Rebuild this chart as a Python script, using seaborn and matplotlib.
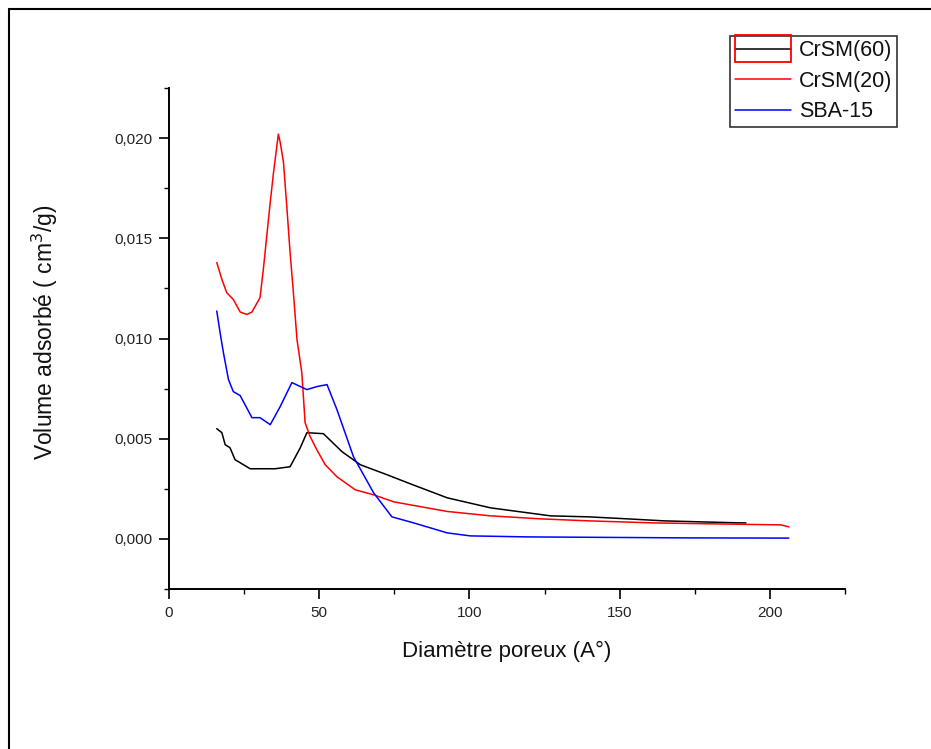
import numpy as np
import pandas as pd
import matplotlib
matplotlib.use("Agg")
import matplotlib.pyplot as plt
import seaborn as sns
from matplotlib.ticker import MultipleLocator, FuncFormatter
from matplotlib.legend_handler import HandlerLine2D
from matplotlib.patches import Rectangle
from matplotlib.lines import Line2D

# ---- data ----
x_crsm60 = [15.9, 17.6, 18.7, 20.3, 22.0, 23.7, 27.0, 35.3, 40.3, 43.7, 45.9, 51.4,
            57.6, 63.7, 72.6, 80.3, 92.6, 107.0, 127.0, 139.7, 152.6, 164.8, 177.0, 189.7, 192.0]
y_crsm60 = [0.0055, 0.0053, 0.0047, 0.00455, 0.00395, 0.0038, 0.0035, 0.0035, 0.0036, 0.00455,
            0.0053, 0.00525, 0.00435, 0.0037, 0.0032, 0.00275, 0.00205, 0.00155, 0.00115, 0.0011,
            0.0010, 0.0009, 0.00085, 0.0008, 0.0008]

x_crsm20 = [15.9, 17.6, 19.2, 21.4, 23.7, 25.9, 27.6, 30.3, 31.4, 32.6, 33.7, 34.8, 36.4, 37.0,
            38.1, 39.2, 40.3, 41.4, 42.6, 44.2, 44.8, 45.3, 47.0, 49.2, 52.0, 55.9, 62.0, 68.1,
            74.8, 80.3, 92.6, 107.0, 123.7, 139.7, 160.9, 181.3, 203.7, 206.3]
y_crsm20 = [0.01379, 0.01295, 0.01229, 0.01195, 0.01132, 0.0112, 0.01132, 0.01204, 0.01345,
            0.0152, 0.0168, 0.0183, 0.0202, 0.0198, 0.0188, 0.0166, 0.0143, 0.0123, 0.00995,
            0.0083, 0.00695, 0.0058, 0.0051, 0.00445, 0.0037, 0.0031, 0.00245, 0.0022, 0.00185,
            0.0017, 0.00137, 0.00115, 0.0010, 0.0009, 0.0008, 0.00075, 0.0007, 0.0006]

x_sba15 = [15.9, 17.0, 18.1, 19.8, 21.4, 23.7, 27.6, 30.3, 33.7, 37.0, 40.9, 45.9, 49.2, 52.6,
           55.9, 61.4, 68.1, 74.2, 81.4, 92.6, 100.3, 119.2, 173.0, 206.3]
y_sba15 = [0.01137, 0.0103, 0.0093, 0.00795, 0.00735, 0.00715, 0.00605, 0.00605, 0.0057,
           0.0066, 0.0078, 0.00745, 0.0076, 0.0077, 0.00645, 0.0041, 0.0023, 0.0011, 0.0008,
           0.0003, 0.00015, 0.0001, 0.00005, 0.00004]

series_names = ["CrSM(60)", "CrSM(20)", "SBA-15"]
colors = ["#000000", "#ff0000", "#0000ff"]

x_ticks = [0, 50, 100, 150, 200]
y_ticks = [0.000, 0.005, 0.010, 0.015, 0.020]

df = pd.concat([
    pd.DataFrame({"x": x_crsm60, "y": y_crsm60, "s": series_names[0]}),
    pd.DataFrame({"x": x_crsm20, "y": y_crsm20, "s": series_names[1]}),
    pd.DataFrame({"x": x_sba15, "y": y_sba15, "s": series_names[2]}),
], ignore_index=True)

# ---- figure ----
sns.set_theme(style="ticks")
plt.rcParams["font.family"] = ["Liberation Sans", "DejaVu Sans"]

W, H = 931, 749
fig = plt.figure(figsize=(W / 100, H / 100), dpi=100)
AX_L, AX_R, AX_T, AX_B = 169, 845, 88, 589
ax = fig.add_axes([AX_L / W, 1 - AX_B / H, (AX_R - AX_L) / W, (AX_B - AX_T) / H])

sns.lineplot(data=df, x="x", y="y", hue="s", hue_order=series_names,
             palette=dict(zip(series_names, colors)), estimator=None, sort=False,
             linewidth=1.1, ax=ax, legend=False)

ax.set_xlim(0, 225)
ax.set_ylim(-0.0025, 0.0225)
ax.set_xticks(x_ticks)
ax.set_yticks(y_ticks)
ax.xaxis.set_minor_locator(MultipleLocator(25))
ax.yaxis.set_minor_locator(MultipleLocator(0.0025))
ax.yaxis.set_major_formatter(FuncFormatter(lambda v, p: f"{v:.3f}".replace(".", ",")))
ax.xaxis.set_major_formatter(FuncFormatter(lambda v, p: f"{v:g}"))

for s in ["top", "right"]:
    ax.spines[s].set_visible(False)
for s in ["left", "bottom"]:
    ax.spines[s].set_linewidth(1.4)
    ax.spines[s].set_color("black")

ax.tick_params(which="major", direction="out", length=7, width=1.2, colors="black",
               labelsize=11, labelcolor="#222222", pad=5)
ax.tick_params(which="minor", direction="out", length=3.6, width=1.0, colors="black")

ax.set_xlabel("Diamètre poreux (A°)", fontsize=16, color="#111111")
ax.set_ylabel("Volume adsorbé ( cm$^3$/g)", fontsize=16.5, color="#111111")
ax.xaxis.set_label_coords((506.5 - AX_L) / (AX_R - AX_L), (AX_B - 641) / (AX_B - AX_T))
ax.yaxis.set_label_coords((60 - AX_L) / (AX_R - AX_L), (AX_B - 332) / (AX_B - AX_T))


class BoxedHandler(HandlerLine2D):
    def create_artists(self, legend, orig_handle, xdescent, ydescent, width, height,
                       fontsize, trans):
        arts = super().create_artists(legend, orig_handle, xdescent, ydescent, width,
                                      height, fontsize, trans)
        cy = (height - ydescent) / 2
        rect = Rectangle((-xdescent, cy - 9.7), width, 19.4, fill=False,
                         edgecolor="red", linewidth=1.3, transform=trans)
        return list(arts) + [rect]


handles = [Line2D([], [], color=c, lw=1.1) for c in colors]
leg = ax.legend(handles, series_names, loc="upper right",
                bbox_to_anchor=(897 / W, 1 - 36 / H), bbox_transform=fig.transFigure,
                frameon=True, fancybox=False, fontsize=15.5, handlelength=2.6,
                handletextpad=0.4, labelspacing=0.44, borderpad=0.2, borderaxespad=0,
                handler_map={handles[0]: BoxedHandler()})
leg.get_frame().set_edgecolor("black")
leg.get_frame().set_linewidth(1.2)
for t in leg.get_texts():
    t.set_color("#111111")

# partial outer frame (top and left)
fig.add_artist(Line2D([9 / W, 1], [1 - 9 / H, 1 - 9 / H], transform=fig.transFigure,
                      color="black", lw=1.5))
fig.add_artist(Line2D([9 / W, 9 / W], [0, 1 - 9 / H], transform=fig.transFigure,
                      color="black", lw=1.5))

fig.savefig("out.png", dpi=100)
